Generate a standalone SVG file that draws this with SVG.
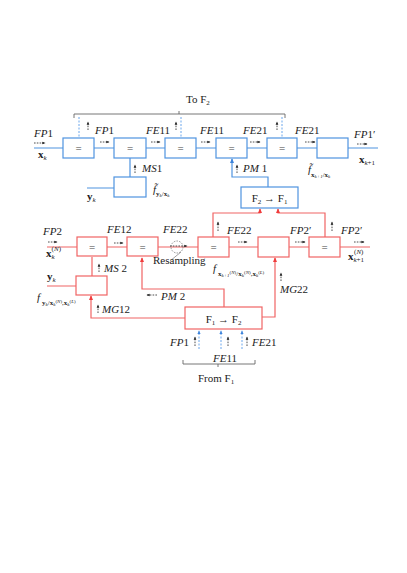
<svg xmlns="http://www.w3.org/2000/svg" width="407" height="573" viewBox="0 0 407 573">
<defs>
<marker id="ah" viewBox="0 0 6 6" refX="5" refY="3" markerWidth="4" markerHeight="4" orient="auto"><path d="M0,0.5 L6,3 L0,5.5 Z" fill="#222"/></marker>
<marker id="ahb" viewBox="0 0 6 6" refX="5" refY="3" markerWidth="4" markerHeight="4" orient="auto"><path d="M0,0.5 L6,3 L0,5.5 Z" fill="#3d84dc"/></marker>
<marker id="ahr" viewBox="0 0 6 6" refX="5" refY="3" markerWidth="4" markerHeight="4" orient="auto"><path d="M0,0.5 L6,3 L0,5.5 Z" fill="#f03c3c"/></marker>
</defs>
<style>
text{font-family:"Liberation Serif","Times New Roman",serif;font-size:11px;fill:#222}
.i{font-style:italic}
.bd{font-weight:bold}
.sb{font-size:7px}
.eq{font-size:11px;fill:#444;text-anchor:middle}
.bn rect{fill:#fff;stroke:#4f93e0;stroke-width:1.2}
.rn rect{fill:#fff;stroke:#f06464;stroke-width:1.2}
.b{fill:none;stroke:#4f93e0;stroke-width:1.2}
.r{fill:none;stroke:#f06464;stroke-width:1.2}
.bdash{fill:none;stroke:#6aa6ec;stroke-width:1;stroke-dasharray:2,1.5}
.la{fill:none;stroke:#222;stroke-width:0.8;stroke-dasharray:1.6,1.2}
.br{fill:none;stroke:#666;stroke-width:0.9}
</style>
<rect width="407" height="573" fill="#fff"/>

<g id="connectors">
<path class="b" d="M34,148 H63 M94,148 H114 M146,148 H165 M196,148 H216 M247,148 H267 M297,148 H317 M348,148 H378"/>
<path class="b" d="M130,158 V177 M87,188 H114"/>
<path class="b" d="M268,187 V177 H232 V159" marker-end="url(#ahb)"/>
<path class="bdash" d="M79,117 V138 M181,117 V138 M282,117 V138"/>
<path class="r" d="M47,247 H77 M107,247 H127 M158,247 H198 M229,247 H258 M289,247 H309 M340,247 H370"/>
<path class="r" d="M92,257 V276 M47,286 H76"/>
<path class="r" d="M213,237 V213 H260 V209" marker-end="url(#ahr)"/>
<path class="r" d="M325,237 V213 H278 V209" marker-end="url(#ahr)"/>
<path class="r" d="M185,318 H91 V296" marker-end="url(#ahr)"/>
<path class="r" d="M224,307 V289 H142 V258" marker-end="url(#ahr)"/>
<path class="r" d="M262,317 H275 V258" marker-end="url(#ahr)"/>
<path class="bdash" d="M199,349 V331" marker-end="url(#ahb)"/>
<path class="bdash" d="M221,349 V331" marker-end="url(#ahb)"/>
<path class="bdash" d="M242,349 V331" marker-end="url(#ahb)"/>
<circle cx="177" cy="247" r="6" fill="none" stroke="#777" stroke-width="0.8" stroke-dasharray="1.5,1.2"/>
<path d="M181,252 L170,261" stroke="#777" stroke-width="0.7" fill="none"/>
<path class="br" d="M74,118 V114 H285 V118 M179,114 V111"/>
<path class="br" d="M183,360 V364 H255 V360 M218,364 V367"/>
<g>
<path class="la" d="M34,143 H45" marker-end="url(#ah)"/>
<path class="la" d="M100,142 H109" marker-end="url(#ah)"/>
<path class="la" d="M151,142 H160" marker-end="url(#ah)"/>
<path class="la" d="M201,142 H210" marker-end="url(#ah)"/>
<path class="la" d="M250,142 H260" marker-end="url(#ah)"/>
<path class="la" d="M305,142 H315" marker-end="url(#ah)"/>
<path class="la" d="M357,144 H367" marker-end="url(#ah)"/>
<path class="la" d="M48,242 H57" marker-end="url(#ah)"/>
<path class="la" d="M114,243 H123" marker-end="url(#ah)"/>
<path class="la" d="M170,246 H187" marker-end="url(#ah)"/>
<path class="la" d="M238,242 H247" marker-end="url(#ah)"/>
<path class="la" d="M295,242 H305" marker-end="url(#ah)"/>
<path class="la" d="M354,242 H364" marker-end="url(#ah)"/>
<path class="la" d="M157,295 H147" marker-end="url(#ah)"/>
<path class="la" d="M88,130 V122" marker-end="url(#ah)"/>
<path class="la" d="M176,130 V122" marker-end="url(#ah)"/>
<path class="la" d="M277,130 V122" marker-end="url(#ah)"/>
<path class="la" d="M135,173 V165" marker-end="url(#ah)"/>
<path class="la" d="M237,173 V165" marker-end="url(#ah)"/>
<path class="la" d="M218,231 V222" marker-end="url(#ah)"/>
<path class="la" d="M332,231 V222" marker-end="url(#ah)"/>
<path class="la" d="M99,272 V264" marker-end="url(#ah)"/>
<path class="la" d="M98,313 V305" marker-end="url(#ah)"/>
<path class="la" d="M281,281 V273" marker-end="url(#ah)"/>
<path class="la" d="M195,346 V337" marker-end="url(#ah)"/>
<path class="la" d="M228,346 V337" marker-end="url(#ah)"/>
<path class="la" d="M247,346 V337" marker-end="url(#ah)"/>
</g>
</g>

<g id="n1" class="bn"><rect x="63" y="138" width="31" height="20"/><text class="eq" x="78.5" y="152">=</text></g>
<g id="n2" class="bn"><rect x="114" y="138" width="32" height="20"/><text class="eq" x="130" y="152">=</text></g>
<g id="n3" class="bn"><rect x="165" y="138" width="31" height="20"/><text class="eq" x="180.5" y="152">=</text></g>
<g id="n4" class="bn"><rect x="216" y="138" width="31" height="20"/><text class="eq" x="231.5" y="152">=</text></g>
<g id="n5" class="bn"><rect x="267" y="138" width="30" height="20"/><text class="eq" x="282" y="152">=</text></g>
<g id="n6" class="bn"><rect x="317" y="138" width="31" height="20"/></g>
<g id="ms1" class="bn"><rect x="114" y="177" width="32" height="20"/></g>
<g id="f2f1" class="bn"><rect x="241" y="187" width="57" height="21"/><text x="269.5" y="202" text-anchor="middle">F<tspan class="sb" dy="2">2</tspan><tspan dy="-2"> → F</tspan><tspan class="sb" dy="2">1</tspan></text></g>

<g id="m1" class="rn"><rect x="77" y="237" width="30" height="19"/><text class="eq" x="92" y="251">=</text></g>
<g id="m2" class="rn"><rect x="127" y="237" width="31" height="19"/><text class="eq" x="142.5" y="251">=</text></g>
<g id="m3" class="rn"><rect x="198" y="237" width="31" height="20"/><text class="eq" x="213.5" y="251">=</text></g>
<g id="m4" class="rn"><rect x="258" y="237" width="31" height="20"/></g>
<g id="m5" class="rn"><rect x="309" y="237" width="31" height="20"/><text class="eq" x="324.5" y="251">=</text></g>
<g id="ms2" class="rn"><rect x="76" y="276" width="31" height="19"/></g>
<g id="f1f2" class="rn"><rect x="185" y="307" width="77" height="22"/><text x="223.5" y="323" text-anchor="middle">F<tspan class="sb" dy="2">1</tspan><tspan dy="-2"> → F</tspan><tspan class="sb" dy="2">2</tspan></text></g>

<g id="labels">
<text x="186" y="103">To F<tspan class="sb" dy="2">2</tspan></text>
<text x="198" y="382">From F<tspan class="sb" dy="2">1</tspan></text>

<text x="34" y="137"><tspan class="i">FP</tspan>1</text>
<text x="95" y="134"><tspan class="i">FP</tspan>1</text>
<text x="146" y="134"><tspan class="i">FE</tspan>11</text>
<text x="200" y="134"><tspan class="i">FE</tspan>11</text>
<text x="243" y="134"><tspan class="i">FE</tspan>21</text>
<text x="295" y="134"><tspan class="i">FE</tspan>21</text>
<text x="354" y="138"><tspan class="i">FP</tspan>1′</text>
<text x="142" y="172"><tspan class="i">MS</tspan>1</text>
<text x="243" y="172"><tspan class="i">PM</tspan> 1</text>

<text x="38" y="158" class="bd">x<tspan class="sb i" font-weight="normal" dy="2">k</tspan></text>
<text x="359" y="163" class="bd">x<tspan class="sb i" font-weight="normal" dy="2">k</tspan><tspan class="sb" font-weight="normal">+1</tspan></text>
<text x="87" y="200" class="bd">y<tspan class="sb i" font-weight="normal" dy="2">k</tspan></text>

<text x="153" y="193" font-size="12px"><tspan class="i">f&#x0303;</tspan><tspan class="sb" dy="3"><tspan class="bd">y</tspan><tspan class="i" font-size="5px" dy="1">k</tspan><tspan dy="-1">/</tspan><tspan class="bd">x</tspan><tspan class="i" font-size="5px" dy="1">k</tspan></tspan></text>

<text x="308" y="173" font-size="12px"><tspan class="i">f&#x0303;</tspan><tspan class="sb" dy="4"><tspan class="bd">x</tspan><tspan class="i" font-size="5px" dy="1">k+1</tspan><tspan dy="-1">/</tspan><tspan class="bd">x</tspan><tspan class="i" font-size="5px" dy="1">k</tspan></tspan></text>

<text x="43" y="235"><tspan class="i">FP</tspan>2</text>
<text x="107" y="233"><tspan class="i">FE</tspan>12</text>
<text x="163" y="233"><tspan class="i">FE</tspan>22</text>
<text x="227" y="234"><tspan class="i">FE</tspan>22</text>
<text x="290" y="234"><tspan class="i">FP</tspan>2′</text>
<text x="341" y="234"><tspan class="i">FP</tspan>2′</text>
<text x="104" y="272"><tspan class="i">MS</tspan> 2</text>
<text x="102" y="313"><tspan class="i">MG</tspan>12</text>
<text x="161" y="300"><tspan class="i">PM</tspan> 2</text>
<text x="280" y="293"><tspan class="i">MG</tspan>22</text>
<text x="153" y="264">Resampling</text>

<text x="46" y="257" class="bd">x<tspan class="sb i" font-weight="normal" dy="2">k</tspan><tspan class="sb" font-weight="normal" dx="-3" dy="-8">(<tspan class="i">N</tspan>)</tspan></text>
<text x="348" y="260" class="bd">x<tspan class="sb i" font-weight="normal" dy="2">k</tspan><tspan class="sb" font-weight="normal">+1</tspan><tspan class="sb" font-weight="normal" dx="-10" dy="-8">(<tspan class="i">N</tspan>)</tspan></text>
<text x="47" y="280" class="bd">y<tspan class="sb i" font-weight="normal" dy="2">k</tspan></text>

<text x="37" y="301" class="i" font-size="12px">f</text>
<text x="42" y="305" class="sb"><tspan class="bd">y</tspan><tspan class="i" font-size="5px" dy="1">k</tspan><tspan dy="-1">/</tspan><tspan class="bd">x</tspan><tspan class="i" font-size="5px" dy="1">k</tspan><tspan font-size="5px" dy="-3">(<tspan class="i">N</tspan>)</tspan><tspan dy="2">,</tspan><tspan class="bd">x</tspan><tspan class="i" font-size="5px" dy="1">k</tspan><tspan font-size="5px" dy="-3">(<tspan class="i">L</tspan>)</tspan></text>

<text x="213" y="272" class="i" font-size="12px">f</text>
<text x="218" y="276" class="sb"><tspan class="bd">x</tspan><tspan class="i" font-size="5px" dy="1">k+1</tspan><tspan font-size="5px" dy="-3">(<tspan class="i">N</tspan>)</tspan><tspan dy="2">/</tspan><tspan class="bd">x</tspan><tspan class="i" font-size="5px" dy="1">k</tspan><tspan font-size="5px" dy="-3">(<tspan class="i">N</tspan>)</tspan><tspan dy="2">,</tspan><tspan class="bd">x</tspan><tspan class="i" font-size="5px" dy="1">k</tspan><tspan font-size="5px" dy="-3">(<tspan class="i">L</tspan>)</tspan></text>

<text x="170" y="346"><tspan class="i">FP</tspan>1</text>
<text x="252" y="346"><tspan class="i">FE</tspan>21</text>
<text x="213" y="362"><tspan class="i">FE</tspan>11</text>
</g>
</svg>
